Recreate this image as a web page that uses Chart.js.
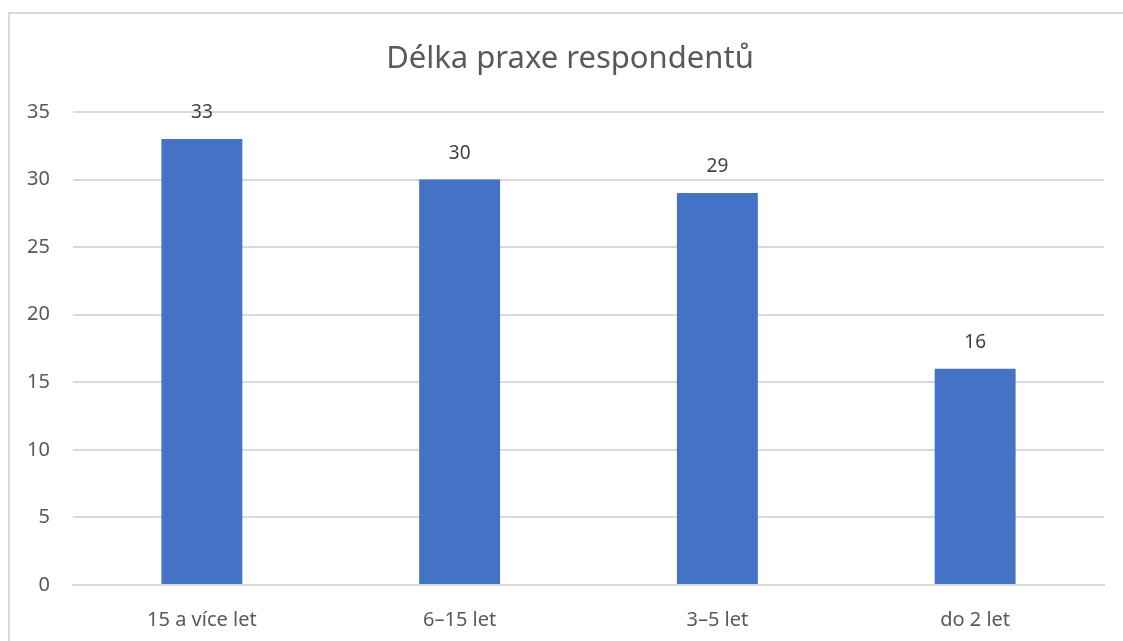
<!DOCTYPE html>
<html>
<head>
<meta charset="utf-8">
<script src="https://cdn.jsdelivr.net/npm/chart.js@4"></script>
<style>
  html, body { margin: 0; padding: 0; background: #fff; }
  #wrap { position: relative; width: 1123px; height: 641px; }
</style>
</head>
<body>
<div id="wrap"><canvas id="praxeChart"></canvas></div>
<script>
const chartTitle = "Délka praxe respondentů";
const categories = ["15 a více let", "6–15 let", "3–5 let", "do 2 let"];
const respondents = [33, 30, 29, 16];
const yTicks = [0, 5, 10, 15, 20, 25, 30, 35];

const FONT = "'Noto Sans', sans-serif";
const TEXT = "#595959";

// frame around the whole chart + the title (Excel centres it over the frame, not the canvas)
const framePlugin = {
  id: "frame",
  beforeDraw(chart) {
    const c = chart.ctx;
    c.save();
    c.fillStyle = "#fff";
    c.fillRect(0, 0, chart.width, chart.height);
    c.strokeStyle = "#d9d9d9";
    c.lineWidth = 2;
    c.strokeRect(9, 13, chart.width + 20, chart.height + 20);
    c.font = "31px " + FONT;
    c.fillStyle = TEXT;
    c.textAlign = "center";
    c.textBaseline = "middle";
    c.fillText(chartTitle, 570, 59);
    c.restore();
  }
};

// value labels above bars
const valueLabels = {
  id: "valueLabels",
  afterDatasetsDraw(chart) {
    const c = chart.ctx;
    const meta = chart.getDatasetMeta(0);
    c.save();
    c.font = "19px " + FONT;
    c.fillStyle = "#404040";
    c.textAlign = "center";
    c.textBaseline = "middle";
    meta.data.forEach((bar, i) => {
      c.fillText(chart.data.datasets[0].data[i], bar.x, bar.y - 26);
    });
    c.restore();
  }
};

new Chart(document.getElementById("praxeChart"), {
  type: "bar",
  data: {
    labels: categories,
    datasets: [{
      label: chartTitle,
      data: respondents,
      backgroundColor: "#4472C4",
      categoryPercentage: 1,
      barPercentage: 0.314
    }]
  },
  options: {
    responsive: true,
    maintainAspectRatio: false,
    animation: false,
    layout: { padding: { left: 0, right: 19, top: 112, bottom: 0 } },
    plugins: {
      legend: { display: false },
      tooltip: { enabled: false },
      title: { display: false }
    },
    scales: {
      x: {
        grid: { display: false },
        border: { color: "#d9d9d9", width: 2 },
        ticks: { color: TEXT, font: { family: FONT, size: 20 }, padding: 15 },
        afterFit(scale) { scale.height = 56; }
      },
      y: {
        min: 0,
        max: 35,
        afterBuildTicks(scale) { scale.ticks = yTicks.map(v => ({ value: v })); },
        grid: { color: "#d9d9d9", lineWidth: 2, drawTicks: false },
        border: { display: false },
        ticks: { color: TEXT, font: { family: FONT, size: 20 }, padding: 23 },
        afterFit(scale) { scale.width = 73; }
      }
    }
  },
  plugins: [framePlugin, valueLabels]
});
</script>
</body>
</html>
